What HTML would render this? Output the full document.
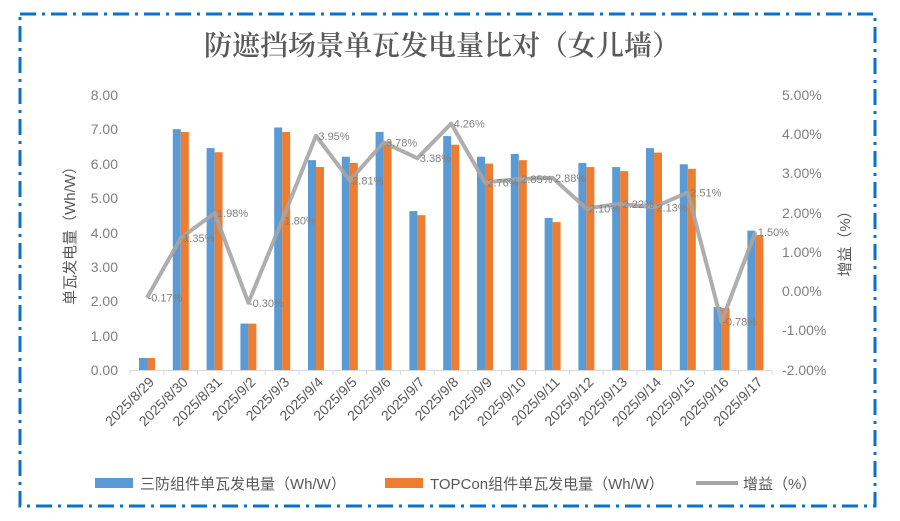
<!DOCTYPE html>
<html><head><meta charset="utf-8"><style>
html,body{margin:0;padding:0;background:#fff;}
svg{display:block;font-family:"Liberation Sans","Noto Sans CJK SC",sans-serif;}
</style></head><body>
<svg width="900" height="521" viewBox="0 0 900 521" xmlns="http://www.w3.org/2000/svg">
<rect x="0" y="0" width="900" height="521" fill="#fff"/>
<rect x="20" y="14" width="855" height="492" fill="none" stroke="#0a72c8" stroke-width="3" stroke-dasharray="16,6,3,6"/>
<text x="442" y="55" text-anchor="middle" font-family="'Noto Serif CJK SC',serif" font-size="28" font-weight="600" fill="#595959">防遮挡场景单瓦发电量比对（女儿墙）</text>
<g font-size="14" fill="#7f7f7f">
<text x="118" y="100" text-anchor="end">8.00</text>
<text x="118" y="134" text-anchor="end">7.00</text>
<text x="118" y="169" text-anchor="end">6.00</text>
<text x="118" y="203" text-anchor="end">5.00</text>
<text x="118" y="238" text-anchor="end">4.00</text>
<text x="118" y="272" text-anchor="end">3.00</text>
<text x="118" y="306" text-anchor="end">2.00</text>
<text x="118" y="341" text-anchor="end">1.00</text>
<text x="118" y="375" text-anchor="end">0.00</text>
<text x="782" y="100">5.00%</text>
<text x="782" y="139">4.00%</text>
<text x="782" y="178">3.00%</text>
<text x="782" y="218">2.00%</text>
<text x="782" y="257">1.00%</text>
<text x="782" y="296">0.00%</text>
<text x="782" y="335">-1.00%</text>
<text x="782" y="375">-2.00%</text>
</g>
<text transform="translate(75,232) rotate(-90)" text-anchor="middle" font-size="15" fill="#595959">单瓦发电量（Wh/W）</text>
<text transform="translate(850,240) rotate(-90)" text-anchor="middle" font-size="15" fill="#595959">增益（%）</text>
<line x1="130" y1="370.5" x2="772" y2="370.5" stroke="#d9d9d9" stroke-width="1"/>
<g id="bars"></g>
<g id="xl" font-size="14" fill="#595959"></g>
<polyline id="ln" fill="none" stroke="#a5a5a5" stroke-width="4" stroke-linejoin="round" opacity="0.9"/>
<g id="lb" font-size="11" fill="#7f7f7f"></g>
<rect x="95" y="478" width="38" height="10" fill="#5b9bd5"/>
<text x="140" y="489" font-size="15" fill="#595959">三防组件单瓦发电量（Wh/W）</text>
<rect x="385" y="478" width="38" height="10" fill="#ed7d31"/>
<text x="430" y="489" font-size="15" fill="#595959">TOPCon组件单瓦发电量（Wh/W）</text>
<line x1="696" y1="483" x2="738" y2="483" stroke="#a5a5a5" stroke-width="4"/>
<text x="743" y="489" font-size="15" fill="#595959">增益（%）</text>
<script>
var d=["2025/8/29","2025/8/30","2025/8/31","2025/9/2","2025/9/3","2025/9/4","2025/9/5","2025/9/6","2025/9/7","2025/9/8","2025/9/9","2025/9/10","2025/9/11","2025/9/12","2025/9/13","2025/9/14","2025/9/15","2025/9/16","2025/9/17"];
var b=[0.35,7.0,6.45,1.35,7.05,6.1,6.2,6.92,4.62,6.8,6.2,6.28,4.42,6.02,5.9,6.45,5.98,1.83,4.05];
var o=[0.35,6.92,6.33,1.35,6.92,5.9,6.02,6.65,4.5,6.55,6.0,6.1,4.3,5.9,5.78,6.32,5.85,1.8,3.92];
var p=[-0.17,1.35,1.98,-0.30,1.80,3.95,2.81,3.78,3.38,4.26,2.76,2.85,2.88,2.10,2.22,2.13,2.51,-0.78,1.50];
var ns="http://www.w3.org/2000/svg",B=document.getElementById("bars"),X=document.getElementById("xl"),L=document.getElementById("lb"),pts=[];
function el(t,a,par,txt){var e=document.createElementNS(ns,t);for(var k in a)e.setAttribute(k,a[k]);if(txt)e.textContent=txt;par.appendChild(e);return e;}
for(var i=0;i<19;i++){var c=147+33.8*i;
el("rect",{x:c-8,y:370-34.4*b[i],width:8,height:34.4*b[i],fill:"#5b9bd5"},B);
el("rect",{x:c,y:370-34.4*o[i],width:8,height:34.4*o[i],fill:"#ed7d31"},B);
el("line",{x1:130+33.8*i,y1:370,x2:130+33.8*i,y2:375,stroke:"#d9d9d9"},B);
el("text",{transform:"translate("+(c+8)+",383) rotate(-45)","text-anchor":"end"},X,d[i]);
var y=291-39.3*p[i];pts.push(c+","+y);
el("text",{x:c+18,y:y+4,"text-anchor":"middle"},L,p[i].toFixed(2)+"%");}
el("line",{x1:772,y1:370,x2:772,y2:375,stroke:"#d9d9d9"},B);
document.getElementById("ln").setAttribute("points",pts.join(" "));
</script>
</svg>
</body></html>
